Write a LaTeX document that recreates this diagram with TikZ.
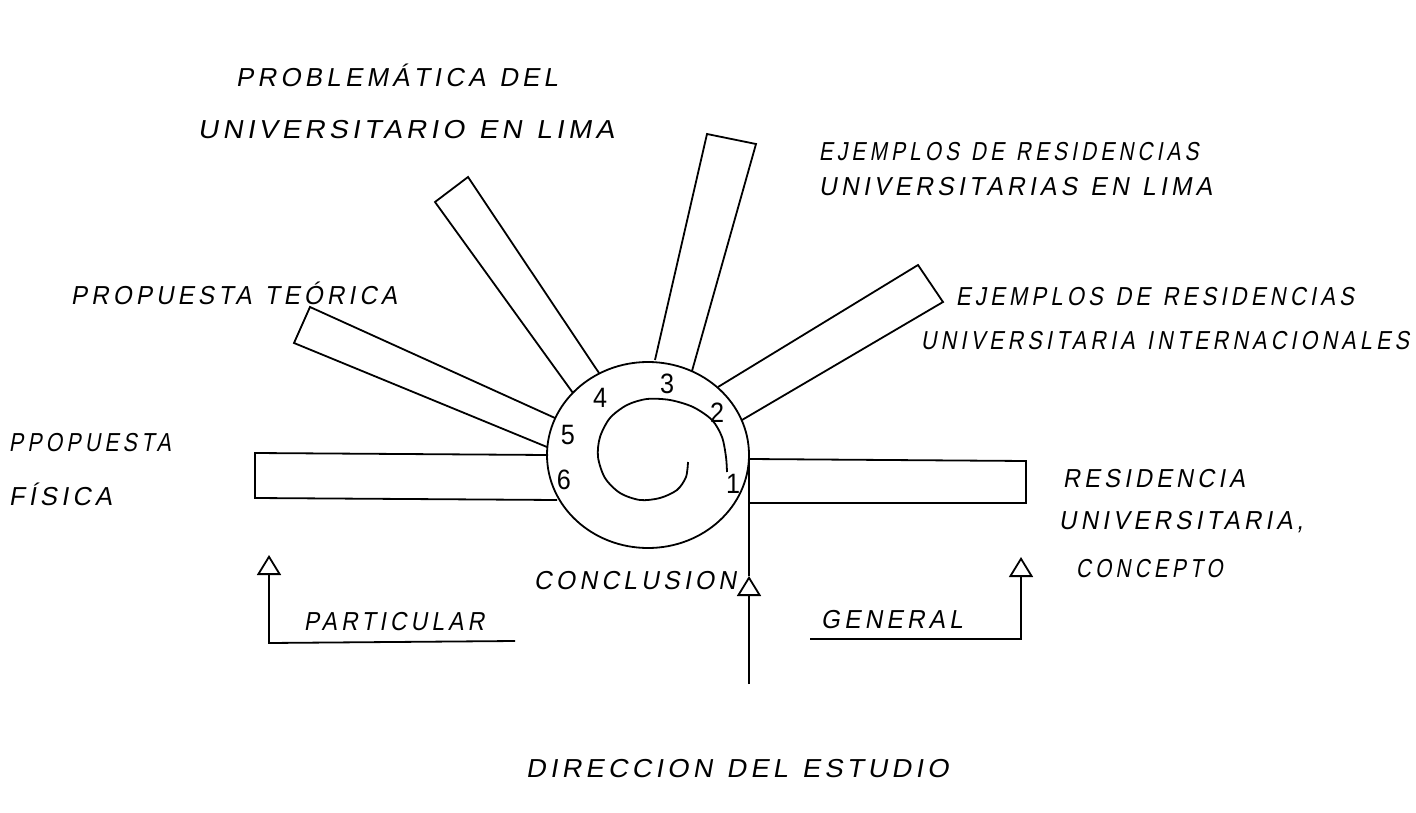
\documentclass[tikz,border=0pt]{standalone}
\usepackage{fontspec}
\setmainfont{Liberation Sans}
\newfontfamily\handfont[FakeSlant=0.18, LetterSpace=16, WordSpace=1.2]{Liberation Sans}
\newfontfamily\numfont[FakeStretch=0.9]{Liberation Sans}
\usetikzlibrary{arrows.meta}

\begin{document}
\begin{tikzpicture}[x=1pt, y=-1pt, line width=1.8pt,
  lettering/.style={anchor=base west, inner sep=0pt, font=\handfont\addfontfeatures{FakeStretch=#1}\fontsize{26}{26}\selectfont},
  lettering/.default=0.9,
  digit/.style={inner sep=0pt, font=\numfont\fontsize{28}{28}\selectfont},
  uparrow/.style={-{Triangle[open, length=20pt, width=24pt, line width=1.8pt]}}]
\useasboundingbox (0,0) rectangle (1416,813);

% central circle with the spiral inside
\coordinate (centre) at (648,455);
\draw (centre) ellipse [x radius=101pt, y radius=93pt];
\draw plot[smooth, tension=0.5] coordinates {(688,462) (686,477) (677,490) (660,498) (640,500) (620,493) (605,478) (598,457) (600,437) (610,418) (627,405) (647,399) (670,400) (693,407) (712,420) (722,437) (726,457) (727,472)};

% bars round the circle
\coordinate (b1a) at (749,459); \coordinate (b1b) at (1026,461); \coordinate (b1c) at (1026,503); \coordinate (b1d) at (749,503);
\coordinate (b2a) at (718,387); \coordinate (b2b) at (918,265); \coordinate (b2c) at (943,302); \coordinate (b2d) at (742,420);
\coordinate (b3a) at (655,360); \coordinate (b3b) at (707,134); \coordinate (b3c) at (756,144); \coordinate (b3d) at (692,371);
\coordinate (b4a) at (599,373); \coordinate (b4b) at (468,177); \coordinate (b4c) at (435,202); \coordinate (b4d) at (573,393);
\coordinate (b5a) at (555,418); \coordinate (b5b) at (310,307); \coordinate (b5c) at (294,343); \coordinate (b5d) at (547,447);
\coordinate (b6a) at (548,455); \coordinate (b6b) at (255,453); \coordinate (b6c) at (255,498); \coordinate (b6d) at (557,500);
\draw (b1a) -- (b1b) -- (b1c) -- (b1d);
\draw (b2a) -- (b2b) -- (b2c) -- (b2d);
\draw (b3a) -- (b3b) -- (b3c) -- (b3d);
\draw (b4a) -- (b4b) -- (b4c) -- (b4d);
\draw (b5a) -- (b5b) -- (b5c) -- (b5d);
\draw (b6a) -- (b6b) -- (b6c) -- (b6d);

% numbers
\node [digit] (n1) at (733,484) {1};
\node [digit] (n2) at (717,413) {2};
\node [digit] (n3) at (667,384) {3};
\node [digit] (n4) at (600,398) {4};
\node [digit] (n5) at (568,435) {5};
\node [digit] (n6) at (564,480) {6};

% arrows
\coordinate (dirbottom) at (749,684);
\coordinate (dirtip) at (749,576);
\coordinate (dirtop) at (749,455);
\draw [uparrow] (dirbottom) -- (dirtip);
\draw (dirtip) -- (dirtop);
\coordinate (partend) at (515,641); \coordinate (partcorner) at (269,643); \coordinate (parttip) at (269,555);
\draw [uparrow] (partend) -- (partcorner) -- (parttip);
\coordinate (genstart) at (810,639); \coordinate (gencorner) at (1021,639); \coordinate (gentip) at (1021,557);
\draw [uparrow] (genstart) -- (gencorner) -- (gentip);

% texts
\node [lettering=1.0] (problem1) at (235,87) {PROBLEMÁTICA DEL};
\node [lettering=1.08] (problem2) at (197,139) {UNIVERSITARIO EN LIMA};
\node [lettering=0.8] (lima1) at (818,161) {EJEMPLOS DE RESIDENCIAS};
\node [lettering=0.95] (lima2) at (818,196) {UNIVERSITARIAS EN LIMA};
\node [lettering=0.93] (teorica) at (70,304) {PROPUESTA TEÓRICA};
\node [lettering=0.85] (inter1) at (955,305) {EJEMPLOS DE RESIDENCIAS};
\node [lettering=0.83] (inter2) at (920,349) {UNIVERSITARIA INTERNACIONALES};
\node [lettering=0.82] (fisica1) at (8,451) {PPOPUESTA};
\node [lettering=0.98] (fisica2) at (8,505) {FÍSICA};
\node [lettering=0.91] (concepto1) at (1062,487) {RESIDENCIA};
\node [lettering=0.93] (concepto2) at (1058,529) {UNIVERSITARIA,};
\node [lettering=0.8] (concepto3) at (1075,577) {CONCEPTO};
\node [lettering=0.95] (conclusion) at (533,589) {CONCLUSION};
\node [lettering=0.88] (particular) at (303,630) {PARTICULAR};
\node [lettering=0.94] (general) at (820,628) {GENERAL};
\node [lettering=1.05] (direccion) at (525,777) {DIRECCION DEL ESTUDIO};

\end{tikzpicture}
\end{document}
